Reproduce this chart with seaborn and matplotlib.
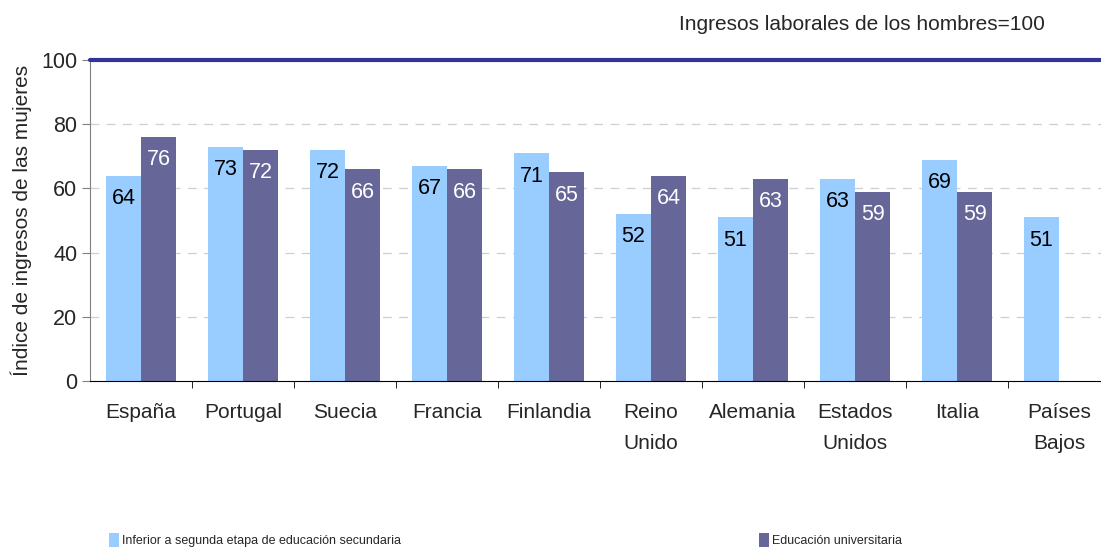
import numpy as np
import pandas as pd
import matplotlib
matplotlib.use("Agg")
import matplotlib.pyplot as plt
import seaborn as sns
from matplotlib.patches import Patch

countries = ["España", "Portugal", "Suecia", "Francia", "Finlandia", "Reino\nUnido",
             "Alemania", "Estados\nUnidos", "Italia", "Países\nBajos"]
series_names = ["Inferior a segunda etapa de educación secundaria", "Educación universitaria"]
lower_secondary = [64, 73, 72, 67, 71, 52, 51, 63, 69, 51]
university = [76, 72, 66, 66, 65, 64, 63, 59, 59, np.nan]
colors = ["#99CCFF", "#666699"]
text_colors = ["black", "white"]

df = pd.DataFrame({
    "pais": countries * 2,
    "serie": [series_names[0]] * len(countries) + [series_names[1]] * len(countries),
    "valor": lower_secondary + university,
})

sns.set_style("white")
plt.rcParams["font.family"] = ["Liberation Sans", "DejaVu Sans"]

fig = plt.figure(figsize=(11.01, 5.51), dpi=100)
ax = fig.add_axes([90 / 1101, 1 - 381 / 551, 1020 / 1101, 321 / 551])

sns.barplot(data=df, x="pais", y="valor", hue="serie", hue_order=series_names,
            palette=colors, width=0.69, saturation=1, ax=ax, legend=False,
            order=countries, errorbar=None, linewidth=0)

ax.set_xlim(-0.5, len(countries) - 0.5)
ax.set_ylim(0, 100)
ax.set_yticks([0, 20, 40, 60, 80, 100])
ax.tick_params(axis="y", labelsize=15.5, length=6, direction="out", left=True, color="#808080", pad=3)
for y in [20, 40, 60, 80]:
    ax.axhline(y, color="#CFCFCF", lw=0.9, ls=(0, (7, 6)), zorder=0)
ax.axhline(100, color="#333399", lw=3, zorder=5, clip_on=False)

ax.set_xticks(range(len(countries)))
ax.set_xticklabels(countries, fontsize=15, linespacing=1.78)
ax.tick_params(axis="x", which="major", length=0, pad=16)
ax.set_xticks(np.arange(0.5, len(countries) - 0.5, 1), minor=True)
ax.tick_params(axis="x", which="minor", length=5, direction="out", bottom=True, color="black")

ax.set_xlabel("")
ax.set_ylabel("Índice de ingresos de las mujeres", fontsize=15, labelpad=7)

for s in ["top", "right"]:
    ax.spines[s].set_visible(False)
ax.spines["left"].set_color("#808080")
ax.spines["bottom"].set_color("black")

for ci, cont in enumerate(ax.containers):
    for bar in cont:
        h = bar.get_height()
        if np.isnan(h) or h == 0:
            continue
        ax.annotate(f"{h:.0f}", (bar.get_x() + bar.get_width() / 2, h),
                    xytext=(0, -16.5), textcoords="offset points",
                    ha="center", va="center", fontsize=15.5, color=text_colors[ci])

fig.text(1045 / 1101, 1 - 25 / 551, "Ingresos laborales de los hombres=100",
         ha="right", va="center", fontsize=15)

for i, (name, c) in enumerate(zip(series_names, colors)):
    xpos = [103 / 1101, 753 / 1101][i]
    fig.legend(handles=[Patch(facecolor=c, edgecolor="none")], labels=[name],
               loc="lower left", bbox_to_anchor=(xpos, -0.004), frameon=False,
               fontsize=9, handlelength=0.8, handleheight=1.4, handletextpad=0.2,
               borderaxespad=0.1)

fig.savefig("out.png", dpi=100)
